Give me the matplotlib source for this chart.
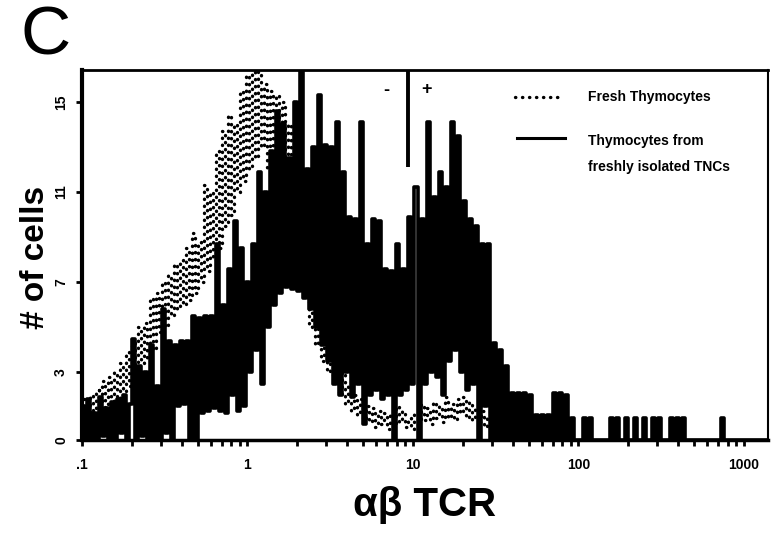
import numpy as np
import matplotlib
matplotlib.use('Agg')
import matplotlib.pyplot as plt
from matplotlib.ticker import LogLocator, NullFormatter

plt.rcParams['font.family'] = ['Liberation Sans', 'DejaVu Sans']

# cell counts per log channel, 0.1 .. 1400
tnc_counts = [
    1.5, 0.0, 1.8, 0.0, 1.2, 0.0, 1.9, 0.2, 1.4, 0.0, 1.7, 0.0, 1.8, 0.3, 2.0, 0.0,
    1.6, 4.5, 0.0, 3.3, 0.2, 3.0, 0.0, 4.2, 0.0, 2.4, 0.0, 5.8, 0.3, 4.4, 0.0, 4.2,
    1.5, 4.4, 1.6, 4.4, 0.0, 5.5, 0.0, 5.4, 1.2, 5.5, 1.3, 5.5,
    1.4, 8.7, 1.3, 6.0, 1.2, 7.6, 2.0, 9.7, 1.3, 8.5, 1.5, 7.0, 3.0, 8.7, 4.0, 11.9,
    2.5, 11.0, 5.0, 12.8, 6.0, 14.6, 6.5, 14.0, 6.8, 12.5, 6.7, 15.0, 6.6, 16.5, 6.3,
    12.0, 5.8, 13.0, 5.0, 15.3, 4.2, 13.1, 3.5, 13.0, 2.5, 14.1, 2.0, 11.9, 3.0, 9.9,
    1.9, 9.8, 2.5, 14.1, 0.7, 8.7, 2.0, 9.8, 2.2, 9.7, 1.8, 7.6, 2.0, 7.5, 0.0, 8.7,
    2.0, 7.6, 2.2, 9.9, 2.5,
    11.2, 0.0, 9.8, 2.5, 14.1, 3.0, 10.8, 2.8, 11.9, 2.0, 11.2, 3.5, 14.1, 4.0, 13.5,
    3.0, 10.6, 2.2, 9.8, 2.5, 9.5, 0.0, 8.7, 1.5, 8.7, 0.0, 4.3, 0.0, 4.0, 0.0, 3.3,
    0.0, 2.1, 0.0, 2.1, 0.0, 2.1, 0.0, 2.0, 0.0, 1.1, 0.0, 1.1, 0.0, 1.1, 0.0, 2.1,
    0.0, 2.1, 0.0, 2.0, 0.0, 1.0, 0.0,
    0, 0, 1, 0, 1, 0, 0, 0, 0, 0, 0, 1, 0, 1, 0, 0, 1, 0, 0, 1, 0, 0, 1, 0, 0, 1, 0,
    1, 0, 0, 0, 1, 0, 1, 0, 1, 0, 0, 0, 0, 0, 0, 0, 0, 0, 0, 0, 0, 1, 0, 0, 0, 0, 0,
    0, 0, 0, 0, 0, 0, 0, 0, 0, 0,
]

fresh_counts = [
    1.0, 1.8, 1.2, 2.0, 1.0, 2.2, 1.4, 2.6, 1.3, 2.8, 1.6, 3.0, 1.8, 3.4, 2.0, 3.9,
    2.4, 4.5, 3.0, 5.0, 3.4, 5.2, 3.6, 6.3, 4.0, 6.5, 4.8, 7.0, 5.0, 7.3, 5.5, 7.8,
    5.8, 8.0, 6.0, 8.5, 6.2, 9.2, 6.5, 8.8, 7.0, 11.3, 7.5, 11.0, 8.0, 12.8, 8.5,
    13.7, 9.5, 14.4, 10.0, 14.0, 11.0, 15.5, 11.5, 16.2, 12.0, 16.8, 12.5, 16.8,
    13.0, 15.8, 12.0, 15.5, 12.0, 15.3, 11.5, 15.0, 11.0, 14.0, 10.0, 12.0, 8.0,
    10.0, 6.5, 7.5, 5.0, 6.6, 4.2, 5.5, 3.5, 4.8, 3.0, 4.0, 2.6, 3.5, 2.0, 3.0, 1.6,
    2.4, 1.3, 2.0, 1.1, 1.8, 0.9, 1.5, 0.8, 1.4, 0.6, 1.3, 0.7, 1.2,
    0.5, 1.2, 0.7, 1.5, 0.8, 1.3, 0.6, 1.0, 0.5, 1.2, 0.8, 1.6, 0.9, 1.4, 0.7, 1.7,
    1.0, 1.5, 0.8, 1.9, 1.0, 1.6, 0.9, 1.8, 1.2, 1.9, 1.0, 1.7, 0.9, 1.4, 0.8, 1.3,
    0.6, 1.0, 0.5,
    0.8, 0.4, 0.9, 0.3, 0.7, 0.3, 0.6, 0.2, 0.6, 0.2, 0.5, 0.2, 0.5, 0.1, 0.4,
    0.1, 0.4, 0.0, 0.3, 0.0, 0.3, 0.0, 0.2, 0.0, 0.0,
]

xtick_vals = [0.1, 1, 10, 100, 1000]
xtick_labels = ['.1', '1', '10', '100', '1000']
ytick_vals = [0, 3, 7, 11, 15]
gate_pos = 9.3

channels = np.logspace(-1, np.log10(1400), len(tnc_counts))
dots = (0, (0.1, 2.0))

fig = plt.figure(figsize=(7.71, 5.36), dpi=100)
ax = fig.add_axes([0.1064, 0.179, 0.8897, 0.690])

ax.plot(channels[:len(fresh_counts)], fresh_counts, color='black', lw=2.4,
        linestyle=dots, dash_capstyle='round', drawstyle='steps-mid')
ax.plot(channels, tnc_counts, color='black', lw=2.6, drawstyle='steps-mid')

ax.set_xscale('log')
ax.set_xlim(0.1, 1400)
ax.set_ylim(0, 16.4)

ax.set_xticks(xtick_vals)
ax.set_xticklabels(xtick_labels, fontweight='bold', fontsize=10)
ax.xaxis.set_minor_locator(LogLocator(base=10, subs=np.arange(2, 10)))
ax.xaxis.set_minor_formatter(NullFormatter())
ax.set_yticks(ytick_vals)
ax.set_yticklabels([str(v) for v in ytick_vals], rotation=90, va='center',
                   fontweight='bold', fontsize=10)
ax.tick_params(axis='both', which='both', direction='out', width=2, length=4)
ax.tick_params(axis='x', pad=9)
ax.tick_params(axis='y', pad=6)

ax.spines['left'].set_linewidth(3)
ax.spines['bottom'].set_linewidth(2.5)
ax.spines['top'].set_linewidth(2)
ax.spines['right'].set_linewidth(1.5)

# gate between negative and positive cells
ax.vlines(gate_pos, 12.1, 16.4, color='black', lw=2.8)
ax.text(6.95, 15.5, '-', fontsize=13, fontweight='bold', ha='center', va='center')
ax.text(12.0, 15.55, '+', fontsize=13, fontweight='bold', ha='center', va='center')

# legend
ax.plot([0.631, 0.699], [0.927, 0.927], transform=ax.transAxes, color='black',
        lw=2.4, linestyle=dots, dash_capstyle='round')
ax.text(0.737, 0.927, 'Fresh Thymocytes', transform=ax.transAxes, fontsize=10,
        fontweight='bold', va='center')
ax.plot([0.634, 0.704], [0.816, 0.816], transform=ax.transAxes, color='black', lw=2.2)
ax.text(0.737, 0.808, 'Thymocytes from', transform=ax.transAxes, fontsize=10,
        fontweight='bold', va='center')
ax.text(0.737, 0.738, 'freshly isolated TNCs', transform=ax.transAxes, fontsize=10,
        fontweight='bold', va='center')

fig.text(0.026, 0.931, 'C', fontsize=50, ha='left', va='center')
fig.text(36 / 771, 1 - 257 / 536, '# of cells', rotation=90, fontsize=24,
         fontweight='bold', ha='center', va='center')
fig.text(425 / 771, 0.058, 'αβ TCR', fontsize=29, fontweight='bold',
         ha='center', va='center')

fig.savefig('out.png', dpi=100)
